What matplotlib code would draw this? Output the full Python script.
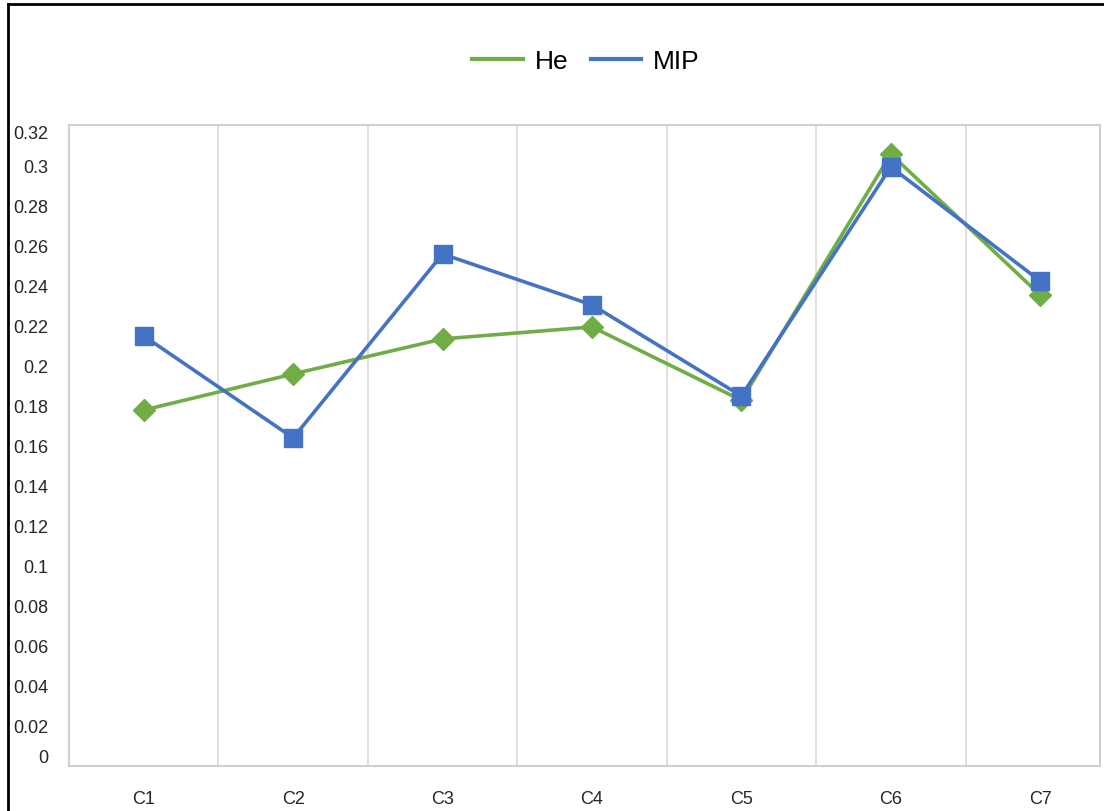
import matplotlib
matplotlib.use("Agg")
import matplotlib.pyplot as plt
from matplotlib.lines import Line2D

categories = ["C1", "C2", "C3", "C4", "C5", "C6", "C7"]
he_values = [0.1777, 0.1957, 0.2132, 0.2192, 0.1826, 0.3055, 0.2351]
mip_values = [0.2147, 0.1638, 0.2556, 0.2302, 0.1847, 0.2991, 0.2421]
y_ticks = [0, 0.02, 0.04, 0.06, 0.08, 0.1, 0.12, 0.14, 0.16, 0.18, 0.2,
           0.22, 0.24, 0.26, 0.28, 0.3, 0.32]
y_labels = ["0", "0.02", "0.04", "0.06", "0.08", "0.1", "0.12", "0.14", "0.16",
            "0.18", "0.2", "0.22", "0.24", "0.26", "0.28", "0.3", "0.32"]

W, H = 1104, 812
fig = plt.figure(figsize=(W / 100, H / 100), dpi=100)
plt.rcParams['font.family'] = ['Liberation Sans', 'DejaVu Sans']

left, right, top, bottom = 69, 1100, 126, 767
ax = fig.add_axes([left / W, 1 - bottom / H, (right - left) / W, (bottom - top) / H])

green = "#70AD47"
blue = "#4472C4"
x = list(range(len(categories)))
ax.plot(x, he_values, color=green, lw=2.6, marker="D", ms=11.5, mec=green, mfc=green,
        label="He", zorder=3)
ax.plot(x, mip_values, color=blue, lw=2.6, marker="s", ms=13, mec=blue, mfc=blue,
        label="MIP", zorder=4)

ax.set_xlim(-0.5, 6.4)
ax.set_ylim(0, 0.32)
ax.set_yticks(y_ticks)
ax.set_yticklabels(y_labels)
ax.set_xticks(x)
ax.set_xticklabels(categories)
for xb in [0.5, 1.5, 2.5, 3.5, 4.5, 5.5]:
    ax.axvline(xb, color="#D9D9D9", lw=1.2, zorder=1)

for s in ax.spines.values():
    s.set_color("#D0D0D0")
    s.set_linewidth(1.5)

ax.tick_params(axis="both", length=0, labelsize=13, colors="#262626")
ax.tick_params(axis="y", pad=15)
ax.tick_params(axis="x", pad=17)
ylabs = ax.get_yticklabels()
ylabs[0].set_va("bottom")
ylabs[-1].set_va("top")

handles = [Line2D([0], [0], color=green, lw=3), Line2D([0], [0], color=blue, lw=3)]
fig.legend(handles, ["He", "MIP"], loc="center", bbox_to_anchor=(586 / W, 1 - 62 / H),
           ncol=2, frameon=False, fontsize=19, handlelength=1.9, columnspacing=0.87,
           handletextpad=0.45)

# outer black border (top and left)
fig.add_artist(Line2D([8 / W, 1], [1 - 5 / H, 1 - 5 / H], color="black", lw=2,
                      transform=fig.transFigure))
fig.add_artist(Line2D([8 / W, 8 / W], [0, 1 - 5 / H], color="black", lw=2,
                      transform=fig.transFigure))

fig.savefig("out.png", dpi=100)
